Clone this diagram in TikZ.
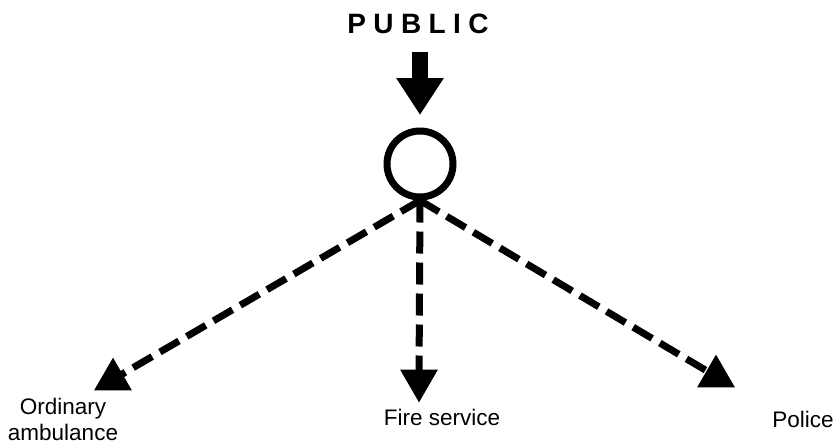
\documentclass[tikz,border=0pt]{standalone}
\usepackage{fontspec}
\setmainfont{Liberation Sans}
\usetikzlibrary{arrows.meta,shapes.geometric}
\begin{document}
\begin{tikzpicture}[x=1pt,y=-1pt,
  lbl/.style={font=\fontsize{22.5}{26}\selectfont, inner sep=0pt},
  headtri/.style={regular polygon, regular polygon sides=3, fill=black, draw=none, minimum size=43.5pt, inner sep=0pt},
  dashline/.style={line width=7pt, dash pattern=on 22pt off 9pt},
  bigarrow/.style={line width=16pt, -{Triangle[length=37pt,width=45pt]}}
]
\useasboundingbox (0,0) rectangle (837,445);
\node[lbl, anchor=base, font=\fontsize{28}{32}\selectfont\bfseries] (public) at (418,33)
  {P\hspace{7.4pt}U\hspace{7.4pt}B\hspace{7.4pt}L\hspace{7.4pt}I\hspace{7.4pt}C};
\coordinate (pa) at (420,52);
\node[circle, draw, line width=7pt, minimum size=66pt, inner sep=0pt] (hub) at (420,164) {};
\draw[bigarrow, shorten >=12.5pt] (pa) -- (hub.north);
\node[headtri] (amb) at (113,379.4) {};
\node[headtri, shape border rotate=180] (fire) at (419,380.6) {};
\node[headtri] (pol) at (716,376.4) {};
\draw[dashline] (hub.south) -- (amb.center);
\draw[dashline] (hub.south) -- (fire.center);
\draw[dashline] (hub.south) -- (pol.center);
\node[lbl, align=center, anchor=north] (ambl) at (63,398) {Ordinary\\ambulance};
\node[lbl, anchor=base] (firel) at (442,425) {Fire service};
\node[lbl, anchor=base] (poll) at (803,427) {Police};
\end{tikzpicture}
\end{document}
